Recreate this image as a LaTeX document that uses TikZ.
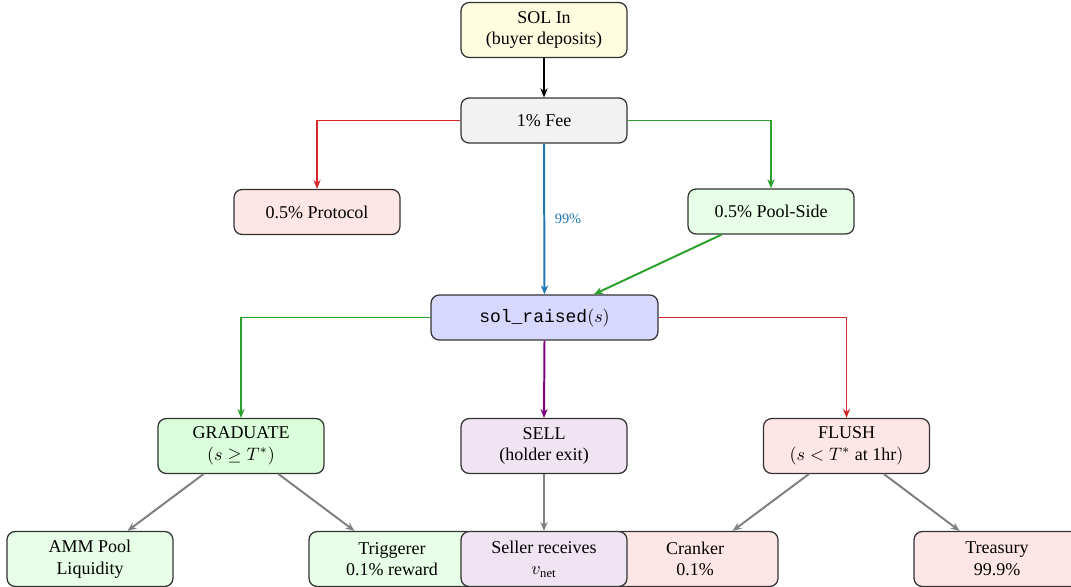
\documentclass[tikz,border=0pt]{standalone}
\usepackage{fontspec}
\setmainfont{Liberation Serif}
\setmonofont{Liberation Mono}
\usetikzlibrary{arrows.meta,positioning}
\definecolor{lnred}{RGB}{214,39,40}
\definecolor{lngreen}{RGB}{44,160,44}
\definecolor{lnblue}{RGB}{31,119,180}
\definecolor{lnpurple}{RGB}{128,0,128}
\definecolor{lngray}{RGB}{128,128,128}
\definecolor{fyellow}{RGB}{255,252,224}
\definecolor{fgray}{RGB}{242,242,242}
\definecolor{fred}{RGB}{255,230,230}
\definecolor{fgreen}{RGB}{230,255,230}
\definecolor{fgreenb}{RGB}{218,255,218}
\definecolor{fblue}{RGB}{216,216,255}
\definecolor{fpurple}{RGB}{240,228,242}
\tikzset{
  box/.style={draw=black!80, line width=0.7pt, rounded corners=4.5pt, align=center,
    minimum width=92.2pt, minimum height=25pt, inner sep=2pt, font=\normalsize},
  tall/.style={minimum height=30.5pt},
  flow/.style={-{Stealth[length=5pt,width=4pt]}, line width=1.1pt},
  gflow/.style={flow, draw=lngray, color=lngray},
}
\begin{document}
\begin{tikzpicture}[x=0.5556pt, y=-0.5556pt]
\useasboundingbox (0,0) rectangle (1071,587);
% top
\node[box, tall, fill=fyellow] (in) at (544,30) {SOL In\\(buyer deposits)};
\node[box, fill=fgray] (fee) at (544,120.5) {1\% Fee};
\node[box, fill=fred] (prot) at (317,212) {0.5\% Protocol};
\node[box, fill=fgreen] (pool) at (771,211.5) {0.5\% Pool-Side};
\node[box, fill=fblue, minimum width=126pt] (sol) at (544.5,317.5) {\texttt{sol\_raised}$(s)$};
% middle
\node[box, tall, fill=fgreenb] (grad) at (241,446) {GRADUATE\\$(s \geq T^*)$};
\node[box, tall, fill=fpurple] (sell) at (544,446) {SELL\\(holder exit)};
\node[box, tall, fill=fred] (flush) at (846.5,446) {FLUSH\\$(s < T^*$ at 1hr$)$};
% bottom
\node[box, tall, fill=fgreen] (amm) at (90,559) {AMM Pool\\Liquidity};
\node[box, tall, fill=fgreen] (trig) at (392,559) {Triggerer\\0.1\% reward};
\node[box, tall, fill=fred] (crank) at (695,559) {Cranker\\0.1\%};
\node[box, tall, fill=fred] (treas) at (997,559) {Treasury\\99.9\%};
\node[box, tall, fill=fpurple] (sellr) at (544,559) {Seller receives\\$v_{\mathrm{net}}$};
% connectors
\draw[flow, line width=1.2pt, draw=black] (in) -- (fee);
\draw[flow, draw=lnred, color=lnred] (fee.west) -| (prot.north);
\draw[flow, draw=lngreen, color=lngreen] (fee.east) -| (pool.north);
\draw[flow, draw=lnblue, color=lnblue] (fee.south) -- node[pos=0.5, right, font=\footnotesize, text=lnblue, xshift=2pt] {99\%} (sol.north);
\draw[flow, draw=lngreen, color=lngreen] (pool) -- (sol);
\draw[flow, draw=lngreen, color=lngreen] (sol.west) -| (grad.north);
\draw[flow, draw=lnpurple, color=lnpurple] (sol.south) -- (sell.north);
\draw[flow, draw=lnred, color=lnred] (sol.east) -| (flush.north);
\draw[gflow] (grad) -- (amm);
\draw[gflow] (grad) -- (trig);
\draw[gflow] (sell) -- (sellr);
\draw[gflow] (flush) -- (crank);
\draw[gflow] (flush) -- (treas);
\end{tikzpicture}
\end{document}
